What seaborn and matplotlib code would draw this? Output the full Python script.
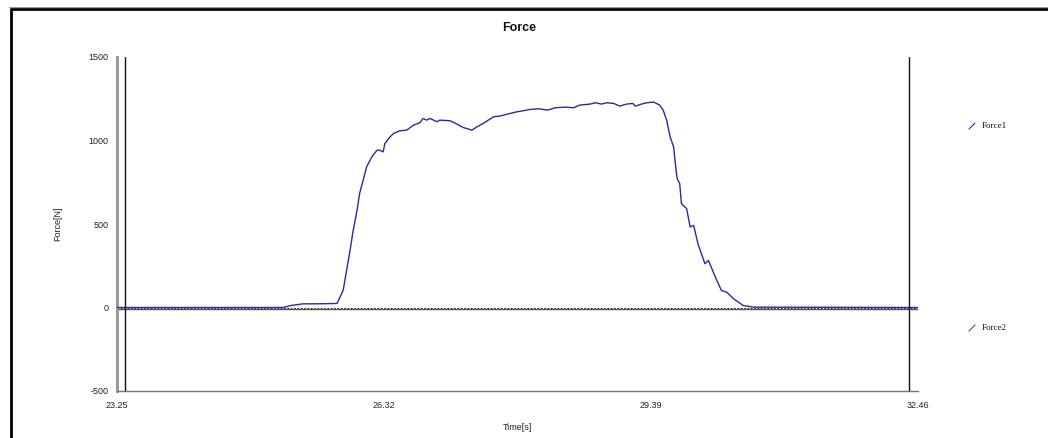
import matplotlib
matplotlib.use("Agg")
import matplotlib.pyplot as plt
from matplotlib.lines import Line2D
import pandas as pd
import seaborn as sns

# Force1 trace: time [s] and force [N]
force1_time = [23.25, 25.16, 25.25, 25.39, 25.55, 25.78, 25.85, 25.89, 25.93, 25.96,
               26.01, 26.04, 26.08, 26.12, 26.18, 26.24, 26.27, 26.31, 26.33, 26.39,
               26.43, 26.50, 26.58, 26.66, 26.73, 26.77, 26.81, 26.85, 26.93, 26.96,
               27.08, 27.16, 27.23, 27.33, 27.39, 27.46, 27.58, 27.65, 27.77, 27.85,
               27.92, 28.00, 28.10, 28.20, 28.29, 28.40, 28.50, 28.57, 28.69, 28.75,
               28.82, 28.88, 28.96, 29.03, 29.11, 29.18, 29.21, 29.28, 29.34, 29.42,
               29.49, 29.53, 29.57, 29.61, 29.65, 29.67, 29.69, 29.72, 29.74, 29.80,
               29.84, 29.88, 29.93, 30.01, 30.05, 30.13, 30.20, 30.26, 30.34, 30.45,
               30.57, 32.46]
force1_value = [0, 0, 12, 22, 22, 24, 102, 222, 342, 444,
                582, 684, 762, 842, 902, 942, 942, 932, 982, 1022,
                1042, 1058, 1062, 1092, 1106, 1132, 1122, 1132, 1112, 1122,
                1118, 1098, 1078, 1062, 1082, 1102, 1142, 1146, 1162, 1172,
                1178, 1186, 1190, 1182, 1196, 1200, 1196, 1212, 1218, 1226,
                1218, 1226, 1222, 1206, 1218, 1222, 1206, 1218, 1226, 1230,
                1212, 1182, 1122, 1022, 962, 862, 772, 742, 622, 592,
                482, 492, 382, 262, 282, 182, 102, 92, 52, 12,
                2, 0]

# Force2 trace stays at rest
force2_time = [23.25, 26.32, 29.39, 32.46]
force2_value = [-8, -8, -8, -8]

# Axis settings
x_ticks = [23.25, 26.32, 29.39, 32.46]
y_ticks = [-500, 0, 500, 1000, 1500]
cursor_times = [23.34, 32.36]

df = pd.concat([
    pd.DataFrame({"Time": force1_time, "Force": force1_value, "Series": "Force1"}),
    pd.DataFrame({"Time": force2_time, "Force": force2_value, "Series": "Force2"}),
])

sns.set_style("white")
plt.rcParams["font.family"] = ["Liberation Sans", "DejaVu Sans"]

W, H = 1048, 438
fig = plt.figure(figsize=(W / 100, H / 100), dpi=100)
ax = fig.add_axes([117 / W, 1 - 391 / H, (918 - 117) / W, (391 - 57) / H])

palette = {"Force1": "#2a2a9c", "Force2": "#555555"}
ax.axhline(0, color="#222222", lw=0.8, ls=(0, (1.5, 1.5)), zorder=1)
sns.lineplot(data=df, x="Time", y="Force", hue="Series", palette=palette,
             linewidth=1.0, legend=False, ax=ax, estimator=None, sort=False)
# keep Force1 above Force2
for ln in ax.get_lines():
    ln.set_zorder(3 if ln.get_color() == "#2a2a9c" else 2)

for t in cursor_times:
    ax.axvline(t, color="#111111", lw=1.0, zorder=4)

ax.set_xlim(x_ticks[0], x_ticks[-1])
ax.set_ylim(-500, 1500)
ax.set_xticks(x_ticks)
ax.set_xticklabels([f"{v:.2f}" for v in x_ticks])
ax.set_yticks(y_ticks)
ax.set_yticklabels([str(v) for v in y_ticks])
ax.tick_params(axis="both", direction="inout", length=10, width=0.8,
               color="#444444", labelsize=6.5, labelcolor="#222222")
ax.tick_params(axis="x", pad=2)
ax.tick_params(axis="y", pad=1)

for side in ("top", "right"):
    ax.spines[side].set_visible(False)
ax.spines["left"].set_color("#9a9a9a")
ax.spines["left"].set_linewidth(2.2)
ax.spines["bottom"].set_color("#777777")
ax.spines["bottom"].set_linewidth(1.0)

ax.set_xlabel("Time[s]", fontsize=6.5, color="#222222")
ax.set_ylabel("Force[N]", fontsize=6.5, color="#222222")
ax.xaxis.set_label_coords(0.5, -(428 - 391) / (391 - 57), transform=ax.transAxes)
ax.yaxis.set_label_coords(-(117 - 58) / (918 - 117), 0.5, transform=ax.transAxes)
ax.xaxis.label.set_va("center")
ax.yaxis.label.set_va("center")

fig.text(519 / W, 1 - 28 / H, "Force", ha="center", va="center",
         fontsize=9, fontweight="bold", color="#111111")

# legend entries on the right
def px(x, y):
    return x / W, 1 - y / H

for label, color, y in (("Force1", "#2a2a9c", 126), ("Force2", "#555555", 328)):
    (x0, y0), (x1, y1) = px(969, y + 3), px(975, y - 3)
    fig.add_artist(Line2D([x0, x1], [y0, y1], color=color, lw=0.8))
    fig.text(*px(982, y), label, ha="left", va="center", fontsize=6.5,
             family=["Liberation Serif", "DejaVu Serif"], color="#111111")

# window frame (left and top edges)
fig.add_artist(Line2D([10.5 / W, 10.5 / W], [0, 1 - 9 / H], color="black", lw=2.0))
fig.add_artist(Line2D([10.5 / W, 1], [1 - 9 / H, 1 - 9 / H], color="black", lw=2.0))
fig.add_artist(Line2D([9 / W, 1], [1 - 7.2 / H, 1 - 7.2 / H], color="#999999", lw=0.8))

fig.savefig("out.png", dpi=100)
